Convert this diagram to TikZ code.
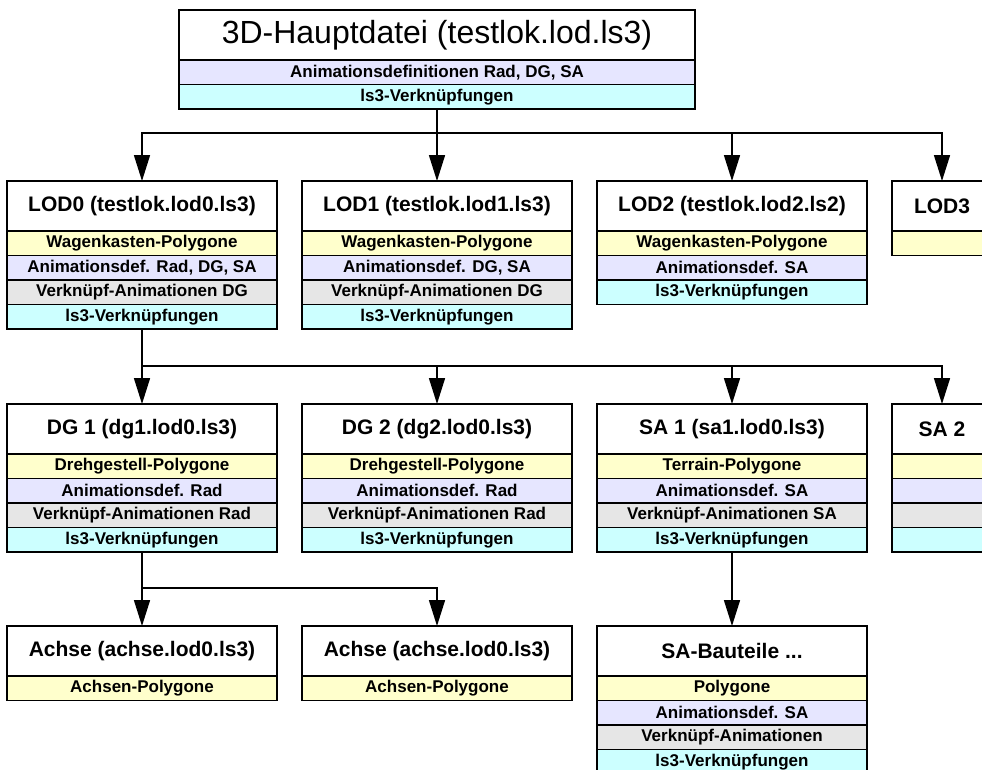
\documentclass[tikz,border=0pt]{standalone}
\usepackage{fontspec}
\setmainfont{Liberation Sans}
\usetikzlibrary{arrows.meta, positioning}
\definecolor{cPoly}{HTML}{FFFFCC}
\definecolor{cAnim}{HTML}{E6E6FF}
\definecolor{cLink}{HTML}{E6E6E6}
\definecolor{cLsd}{HTML}{CCFFFF}
\tikzstyle{fBox} = [rectangle, draw=black, line width=1.6pt, inner sep=0pt, outer sep=0pt, text centered, minimum width=270pt]
\tikzstyle{fTitle} = [fBox, fill=white, minimum width=516pt, minimum height=50pt, font=\fontsize{32}{36}\selectfont]
\tikzstyle{fHeader} = [fBox, fill=white, minimum height=50pt, font=\bfseries\fontsize{21}{24}\selectfont]
\tikzstyle{fBand} = [fBox, minimum height=24.5pt, font=\bfseries\fontsize{17}{20}\selectfont]
\tikzstyle{fPoly} = [fBand, fill=cPoly]
\tikzstyle{fAnim} = [fBand, fill=cAnim]
\tikzstyle{fLink} = [fBand, fill=cLink]
\tikzstyle{fLsd} = [fBand, fill=cLsd]
\tikzstyle{fLine} = [line width=1.6pt]
\tikzstyle{fArrow} = [line width=1.6pt, -{Triangle[length=26pt,width=16pt]}]
\begin{document}
\begin{tikzpicture}[x=1pt, y=-1pt]
    \useasboundingbox (0,0) rectangle (982,769);
    \clip (0,0) rectangle (982,769);
    % main file
    \node (main) [fTitle, anchor=north] at (437,10) {3D-Hauptdatei (testlok.lod.ls3)};
    \node (mainanim) [fAnim, minimum width=516pt, below=0pt of main] {Animationsdefinitionen Rad, DG, SA};
    \node (mainlsd) [fLsd, minimum width=516pt, below=0pt of mainanim] {ls3-Verknüpfungen};
    % LOD files
    \node (lod0) [fHeader, anchor=north] at (142,181) {LOD0 (testlok.lod0.ls3)};
    \node (lod0poly) [fPoly, below=0pt of lod0] {Wagenkasten-Polygone};
    \node (lod0anim) [fAnim, below=0pt of lod0poly] {Animationsdef. Rad, DG, SA};
    \node (lod0link) [fLink, below=0pt of lod0anim] {Verknüpf-Animationen DG};
    \node (lod0lsd) [fLsd, below=0pt of lod0link] {ls3-Verknüpfungen};
    \node (lod1) [fHeader, anchor=north] at (437,181) {LOD1 (testlok.lod1.ls3)};
    \node (lod1poly) [fPoly, below=0pt of lod1] {Wagenkasten-Polygone};
    \node (lod1anim) [fAnim, below=0pt of lod1poly] {Animationsdef. DG, SA};
    \node (lod1link) [fLink, below=0pt of lod1anim] {Verknüpf-Animationen DG};
    \node (lod1lsd) [fLsd, below=0pt of lod1link] {ls3-Verknüpfungen};
    \node (lod2) [fHeader, anchor=north] at (732,181) {LOD2 (testlok.lod2.ls2)};
    \node (lod2poly) [fPoly, below=0pt of lod2] {Wagenkasten-Polygone};
    \node (lod2anim) [fAnim, below=0pt of lod2poly] {Animationsdef. SA};
    \node (lod2lsd) [fLsd, below=0pt of lod2anim] {ls3-Verknüpfungen};
    \node (lod3) [fHeader, minimum width=100pt, anchor=north] at (942,181) {LOD3};
    \node (lod3poly) [fPoly, minimum width=100pt, below=0pt of lod3] {};
    % bogies and parts
    \node (dg1) [fHeader, anchor=north] at (142,404) {DG 1 (dg1.lod0.ls3)};
    \node (dg1poly) [fPoly, below=0pt of dg1] {Drehgestell-Polygone};
    \node (dg1anim) [fAnim, below=0pt of dg1poly] {Animationsdef. Rad};
    \node (dg1link) [fLink, below=0pt of dg1anim] {Verknüpf-Animationen Rad};
    \node (dg1lsd) [fLsd, below=0pt of dg1link] {ls3-Verknüpfungen};
    \node (dg2) [fHeader, anchor=north] at (437,404) {DG 2 (dg2.lod0.ls3)};
    \node (dg2poly) [fPoly, below=0pt of dg2] {Drehgestell-Polygone};
    \node (dg2anim) [fAnim, below=0pt of dg2poly] {Animationsdef. Rad};
    \node (dg2link) [fLink, below=0pt of dg2anim] {Verknüpf-Animationen Rad};
    \node (dg2lsd) [fLsd, below=0pt of dg2link] {ls3-Verknüpfungen};
    \node (sa1) [fHeader, anchor=north] at (732,404) {SA 1 (sa1.lod0.ls3)};
    \node (sa1poly) [fPoly, below=0pt of sa1] {Terrain-Polygone};
    \node (sa1anim) [fAnim, below=0pt of sa1poly] {Animationsdef. SA};
    \node (sa1link) [fLink, below=0pt of sa1anim] {Verknüpf-Animationen SA};
    \node (sa1lsd) [fLsd, below=0pt of sa1link] {ls3-Verknüpfungen};
    \node (sa2) [fHeader, minimum width=100pt, anchor=north] at (942,404) {SA 2};
    \node (sa2poly) [fPoly, minimum width=100pt, below=0pt of sa2] {};
    \node (sa2anim) [fAnim, minimum width=100pt, below=0pt of sa2poly] {};
    \node (sa2link) [fLink, minimum width=100pt, below=0pt of sa2anim] {};
    \node (sa2lsd) [fLsd, minimum width=100pt, below=0pt of sa2link] {};
    % axles and SA parts
    \node (achse1) [fHeader, anchor=north] at (142,626) {Achse (achse.lod0.ls3)};
    \node (achse1poly) [fPoly, below=0pt of achse1] {Achsen-Polygone};
    \node (achse2) [fHeader, anchor=north] at (437,626) {Achse (achse.lod0.ls3)};
    \node (achse2poly) [fPoly, below=0pt of achse2] {Achsen-Polygone};
    \node (saparts) [fHeader, anchor=north] at (732,626) {SA-Bauteile ...};
    \node (sapartspoly) [fPoly, below=0pt of saparts] {Polygone};
    \node (sapartsanim) [fAnim, below=0pt of sapartspoly] {Animationsdef. SA};
    \node (sapartslink) [fLink, below=0pt of sapartsanim] {Verknüpf-Animationen};
    \node (sapartslsd) [fLsd, below=0pt of sapartslink] {ls3-Verknüpfungen};

    \coordinate (busA) at (437,133);
    \coordinate (busB) at (142,366);
    \coordinate (busC) at (142,588);

    \draw [fLine] (mainlsd.south) -- (busA);
    \draw [fArrow] (busA) -| (lod0.north);
    \draw [fArrow] (busA) -- (lod1.north);
    \draw [fArrow] (busA) -| (lod2.north);
    \draw [fArrow] (busA) -| (lod3.north);
    \draw [fLine] (lod0lsd.south) -- (busB);
    \draw [fArrow] (busB) -- (dg1.north);
    \draw [fArrow] (busB) -| (dg2.north);
    \draw [fArrow] (busB) -| (sa1.north);
    \draw [fArrow] (busB) -| (sa2.north);
    \draw [fLine] (dg1lsd.south) -- (busC);
    \draw [fArrow] (busC) -- (achse1.north);
    \draw [fArrow] (busC) -| (achse2.north);
    \draw [fArrow] (sa1lsd.south) -- (saparts.north);
\end{tikzpicture}
\end{document}
